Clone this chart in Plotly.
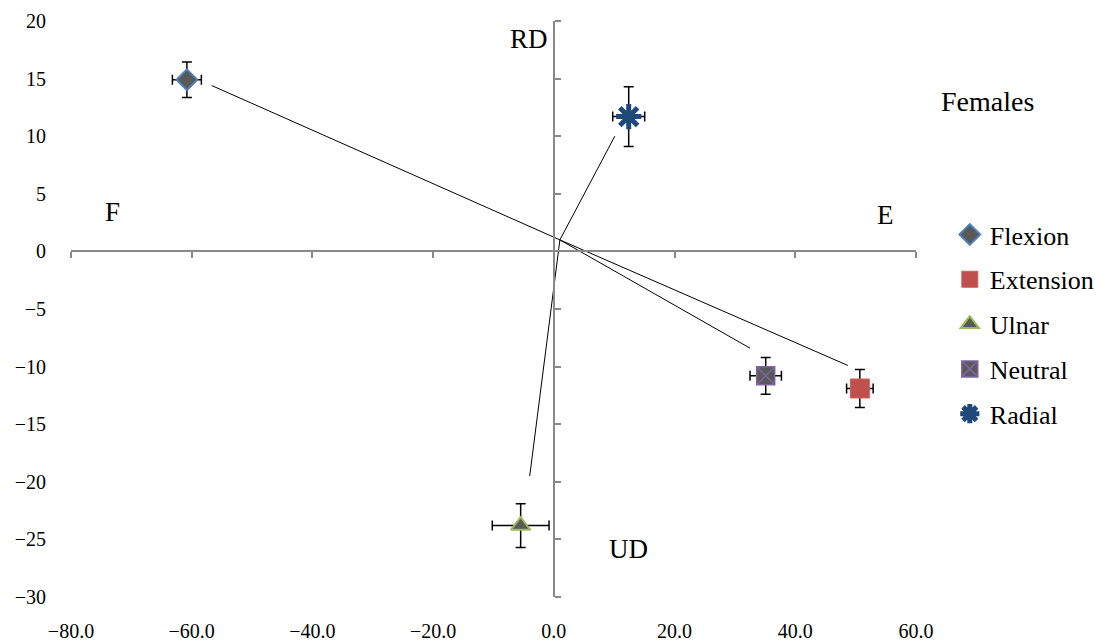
import plotly.graph_objects as go

# ---- data ----
series = ["Flexion", "Extension", "Ulnar", "Neutral", "Radial"]
x_vals = [-60.8, 50.7, -5.5, 35.1, 12.4]
y_vals = [14.9, -11.9, -23.8, -10.8, 11.7]
x_err = [2.4, 2.2, 4.7, 2.6, 2.65]
y_err = [1.55, 1.65, 1.9, 1.6, 2.6]

# vector lines (from common origin to near each point)
vec_origin_x = 1.0
vec_origin_y = 1.0
vec_end_x = [-56.7, 48.7, -4.0, 32.5, 10.1]
vec_end_y = [14.4, -9.9, -19.5, -8.4, 10.0]

x_ticks = [-80, -60, -40, -20, 0, 20, 40, 60]
y_ticks = [20, 15, 10, 5, 0, -5, -10, -15, -20, -25, -30]

labels = ["RD", "F", "E", "UD"]
label_x = [-4.2, -73.2, 55.0, 12.3]
label_y = [18.4, 3.4, 3.2, -25.8]

# ---- styles ----
styles = {
    "Flexion": dict(symbol="diamond", size=16, color="#595959", line=dict(color="#4F81BD", width=2)),
    "Extension": dict(symbol="square", size=19, color="#C0504D", line=dict(color="#C9625F", width=1)),
    "Ulnar": dict(symbol="triangle-up", size=17, color="#595959", line=dict(color="#9BBB59", width=2)),
    "Neutral": dict(symbol="square-x", size=18, color="#595959", line=dict(color="#8064A2", width=1.5)),
    "Radial": dict(symbol="asterisk-open", size=21, color="#1F497D", line=dict(color="#1F497D", width=5)),
}

FONT = "Times New Roman"

fig = go.Figure()

# vector lines
for i in range(len(series)):
    fig.add_trace(go.Scatter(
        x=[vec_origin_x, vec_end_x[i]], y=[vec_origin_y, vec_end_y[i]],
        mode="lines", line=dict(color="black", width=1),
        showlegend=False, hoverinfo="skip"))

# points with error bars
for i, name in enumerate(series):
    fig.add_trace(go.Scatter(
        x=[x_vals[i]], y=[y_vals[i]], mode="markers", name=name,
        legendgroup=name,
        marker=styles[name],
        error_x=dict(type="data", array=[x_err[i]], color="black", thickness=1.5, width=5),
        error_y=dict(type="data", array=[y_err[i]], color="black", thickness=1.5, width=5),
    ))

# crossing axes via overlaid free axes
fig.add_trace(go.Scatter(x=[None], y=[None], xaxis="x2", yaxis="y2", showlegend=False))

for t, lx, ly in zip(labels, label_x, label_y):
    fig.add_annotation(x=lx, y=ly, text=t, showarrow=False,
                       font=dict(family=FONT, size=27, color="black"))

fig.add_annotation(x=1.085, y=0.861, xref="paper", yref="paper", text="Females",
                   xanchor="center", yanchor="middle",
                   showarrow=False, font=dict(family=FONT, size=28, color="black"))

fig.update_layout(
    width=1113, height=644,
    margin=dict(l=71, r=197, t=21, b=47),
    plot_bgcolor="white", paper_bgcolor="white",
    font=dict(family=FONT, size=20, color="black"),
    xaxis=dict(range=[-80, 60], tickvals=x_ticks, tickformat=".1f",
               showgrid=False, zeroline=False, showline=False, ticks="",
               automargin=False,
               ticklabelstandoff=20, tickfont=dict(family=FONT, size=20)),
    yaxis=dict(range=[-30, 20], tickvals=y_ticks, showgrid=False, zeroline=False,
               showline=False, ticks="", ticklabelstandoff=24, automargin=False,
               tickfont=dict(family=FONT, size=20)),
    xaxis2=dict(range=[-80, 60], tickvals=x_ticks, overlaying="x", anchor="free",
                position=0.6, side="bottom", showline=True, linecolor="#898989", linewidth=1.5,
                ticks="outside", ticklen=6, tickcolor="#898989", tickwidth=1.5,
                showticklabels=False, showgrid=False, zeroline=False, automargin=False),
    yaxis2=dict(range=[-30, 20], tickvals=y_ticks, overlaying="y", anchor="free",
                position=80/140, side="right", showline=True, linecolor="#898989", linewidth=1.5,
                ticks="outside", ticklen=6, tickcolor="#898989", tickwidth=1.5,
                showticklabels=False, showgrid=False, zeroline=False, automargin=False),
    legend=dict(x=1.04, y=0.67, xanchor="left", yanchor="top",
                font=dict(family=FONT, size=26), tracegroupgap=8,
                itemsizing="trace", bgcolor="rgba(0,0,0,0)"),
)

fig.write_html("out.html")
